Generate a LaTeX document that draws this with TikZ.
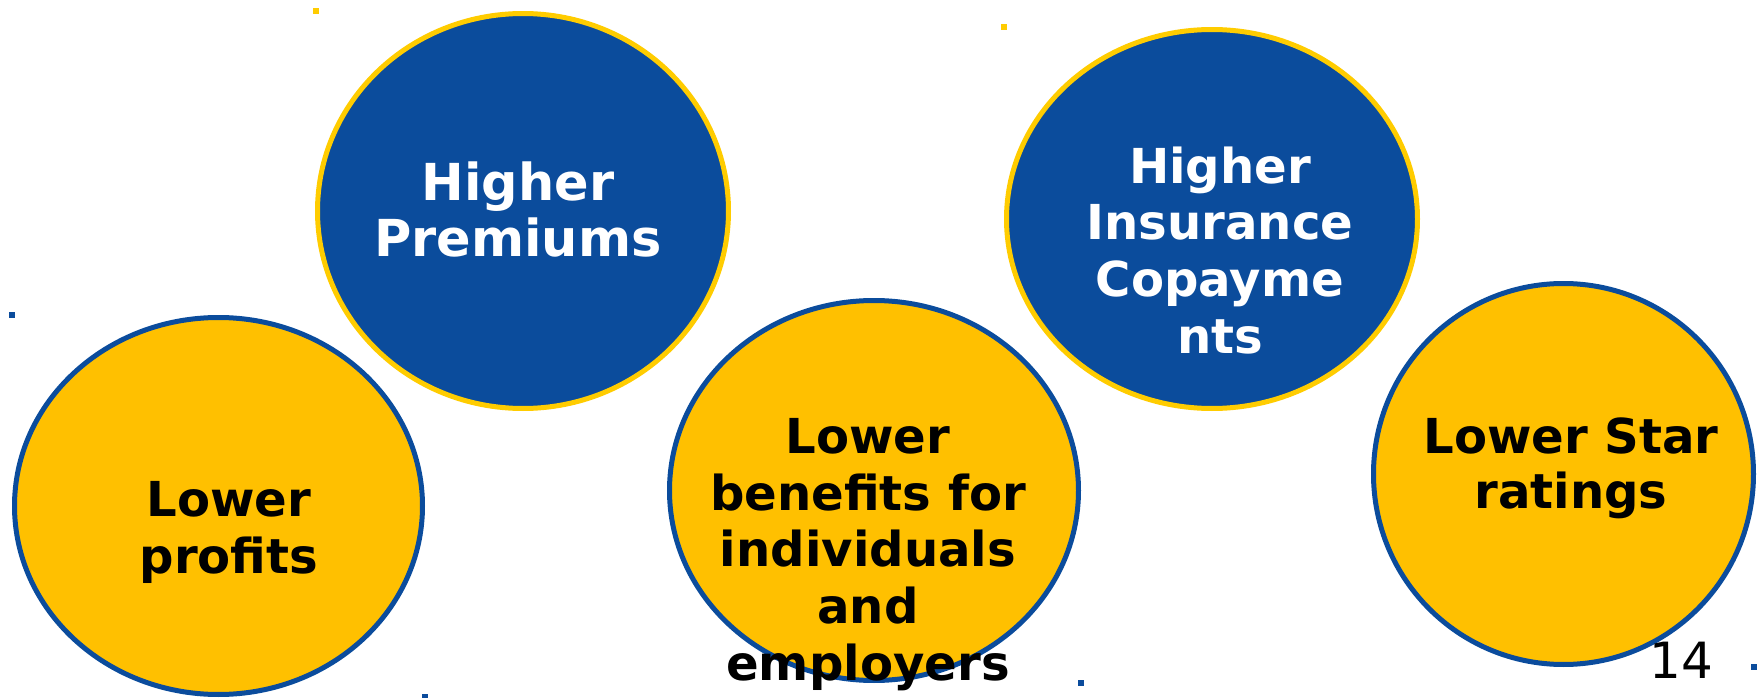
\documentclass[tikz,border=0pt]{standalone}
\usepackage{fontspec}
\setmainfont{DejaVu Sans}
\usetikzlibrary{shapes.geometric}
\definecolor{dblue}{RGB}{11,76,156}
\definecolor{gold}{RGB}{255,192,0}
\definecolor{lgold}{RGB}{255,204,0}

\begin{document}
\begin{tikzpicture}[x=0.1mm, y=-0.1mm,
  bubble/.style={ellipse, line width=0.5mm, inner sep=0pt},
  bluebubble/.style={bubble, fill=dblue, draw=lgold},
  goldbubble/.style={bubble, fill=gold, draw=dblue},
  txt/.style={font=\fontsize{13.7}{16.1}\selectfont\bfseries, align=center, inner sep=0pt, anchor=base},
  dot/.style={inner sep=0pt, minimum size=0.6mm}]
\useasboundingbox (0,0) rectangle (1764,698);

% bubbles
\node[bluebubble, minimum width=41.1mm, minimum height=39.5mm] (prem) at (523,211) {};
\node[goldbubble, minimum width=40.8mm, minimum height=37.7mm] (prof) at (218.5,506) {};
\node[goldbubble, minimum width=40.9mm, minimum height=38.0mm] (bene) at (874,490.5) {};
\node[bluebubble, minimum width=41.1mm, minimum height=37.9mm] (copay) at (1212,219) {};
\node[goldbubble, minimum width=38.0mm, minimum height=38.1mm] (star) at (1563.5,474) {};

% texts (base = last line)
\node[txt, text=white, font=\fontsize{14.5}{16.1}\selectfont\bfseries] (premtxt) at (518,256.7) {Higher\\Premiums};
\node[txt] (proftxt) at (229,573.3) {Lower\\profits};
\node[txt] (benetxt) at (868,680) {Lower\\benefits for\\individuals\\and\\employers};
\node[txt, text=white] (copaytxt) at (1220,353) {Higher\\Insurance\\Copayme\\nts};
\node[txt, font=\fontsize{13.7}{15.6}\selectfont\bfseries] (startxt) at (1571,508.3) {Lower Star\\ratings};
\node[anchor=base, inner sep=0pt, font=\fontsize{14.2}{16}\selectfont] (pgnum) at (1681.5,678.3) {14};

% small marks
\node[dot, fill=lgold] (d1) at (316,11) {};
\node[dot, fill=lgold] (d2) at (1004,27) {};
\node[dot, fill=dblue] (d3) at (12,315) {};
\node[dot, fill=dblue] (d4) at (425,697) {};
\node[dot, fill=dblue] (d5) at (1081,683) {};
\node[dot, fill=dblue] (d6) at (1754,667) {};
\end{tikzpicture}
\end{document}
